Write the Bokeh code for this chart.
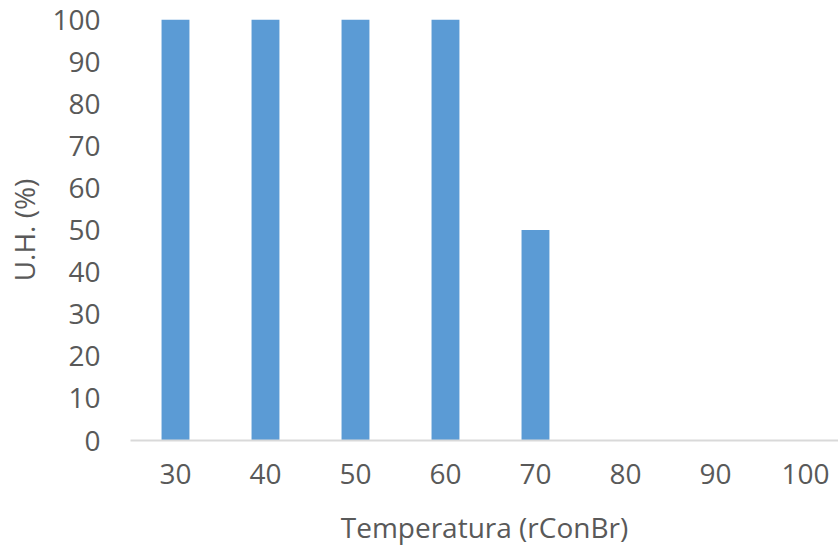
from bokeh.plotting import figure
from bokeh.models import FixedTicker, Range1d
from bokeh.embed import file_html
from bokeh.resources import INLINE

temperatures = [30, 40, 50, 60, 70, 80, 90, 100]
uh_values = [100, 100, 100, 100, 50, 0, 0, 0]
y_ticks = [0, 10, 20, 30, 40, 50, 60, 70, 80, 90, 100]

FONT = "Open Sans"
TXT = "#595959"

p = figure(width=838, height=548, output_backend="svg", toolbar_location=None,
           x_range=Range1d(25, 103.67), y_range=Range1d(0, 100),
           min_border_left=130, min_border_right=0, min_border_top=19,
           min_border_bottom=108)
p.outline_line_color = None
p.grid.visible = False
p.background_fill_color = "white"
p.border_fill_color = "white"

p.vbar(x=temperatures, top=uh_values, width=3.1, bottom=0,
       fill_color="#5B9BD5", line_color=None)

p.xaxis.ticker = FixedTicker(ticks=temperatures)
p.yaxis.ticker = FixedTicker(ticks=y_ticks)

for ax in (p.xaxis, p.yaxis):
    ax.major_tick_line_color = None
    ax.minor_tick_line_color = None
    ax.major_label_text_font = FONT
    ax.major_label_text_font_size = "28px"
    ax.major_label_text_color = TXT
    ax.axis_label_text_font = FONT
    ax.axis_label_text_font_size = "28px"
    ax.axis_label_text_color = TXT
    ax.axis_label_text_font_style = "normal"

p.yaxis.axis_line_color = None
p.xaxis.axis_line_color = "#D9D9D9"
p.xaxis.axis_line_width = 2
p.yaxis.major_label_standoff = 24
p.xaxis.major_label_standoff = 17
p.yaxis.axis_label = "U.H. (%)"
p.xaxis.axis_label = "Temperatura (rConBr)"
p.yaxis.axis_label_standoff = 6
p.xaxis.axis_label_standoff = 21

open("out.html", "w").write(file_html(p, INLINE))
